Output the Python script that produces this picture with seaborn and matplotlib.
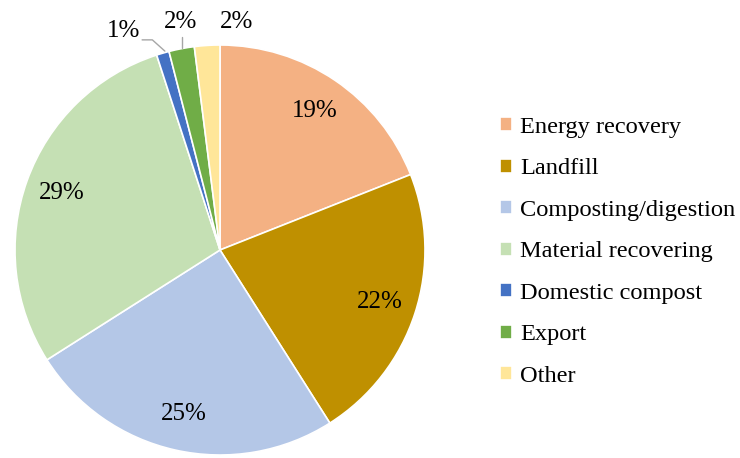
import numpy as np
import seaborn as sns
import matplotlib
matplotlib.use('Agg')
from matplotlib import pyplot as plt

sns.set_theme(style='white')
plt.rcParams['font.family'] = ['Liberation Serif', 'DejaVu Serif']
plt.rcParams['text.color'] = 'black'

# 数据
categories = ['Energy recovery', 'Landfill', 'Composting/digestion', 'Material recovering',
              'Domestic compost', 'Export', 'Other']
shares = [19, 22, 25, 29, 1, 2, 2]
colors = ['#F4B183', '#BF9000', '#B4C7E7', '#C5E0B4', '#4472C4', '#70AD47', '#FFE699']

fig = plt.figure(figsize=(7.4, 4.58), dpi=100)
ax = fig.add_axes([15 / 740, 3 / 458, 410 / 740, 410 / 458])

wedges, _ = ax.pie(shares, colors=colors, startangle=90, counterclock=False,
                   radius=1.0, wedgeprops=dict(edgecolor='white', linewidth=1.2))
ax.set_xlim(-1, 1)
ax.set_ylim(-1, 1)
ax.set_aspect('equal')

# 百分比标签
fs = 18
for w, v in zip(wedges, shares):
    mid = np.deg2rad((w.theta1 + w.theta2) / 2)
    if v >= 5:
        ax.text(0.82 * np.cos(mid), 0.82 * np.sin(mid), f'{v}%', ha='center', va='center', fontsize=fs)

# 小扇区标签（外侧）
small = {4: (-0.47, 1.07), 5: (-0.19, 1.11), 6: (0.08, 1.11)}
for i, (tx, ty) in small.items():
    ax.text(tx, ty, f'{shares[i]}%', ha='center', va='center', fontsize=fs)

# 引导线
m1 = np.deg2rad((wedges[4].theta1 + wedges[4].theta2) / 2)
ax.plot([-0.38, -0.33, np.cos(m1) + 0.01], [1.025, 1.025, np.sin(m1) + 0.01],
        color='#A6A6A6', lw=1, clip_on=False)
m2 = np.deg2rad((wedges[5].theta1 + wedges[5].theta2) / 2)
ax.plot([np.cos(m2), np.cos(m2)], [np.sin(m2) + 0.005, 1.04], color='#A6A6A6', lw=1, clip_on=False)

fig.legend(wedges, categories, loc='center left', bbox_to_anchor=(500 / 740, 0.45),
           frameon=False, fontsize=17.6, handlelength=0.5, handleheight=0.5,
           handletextpad=0.32, labelspacing=0.84, borderpad=0, borderaxespad=0)

fig.savefig('out.png', dpi=100)
